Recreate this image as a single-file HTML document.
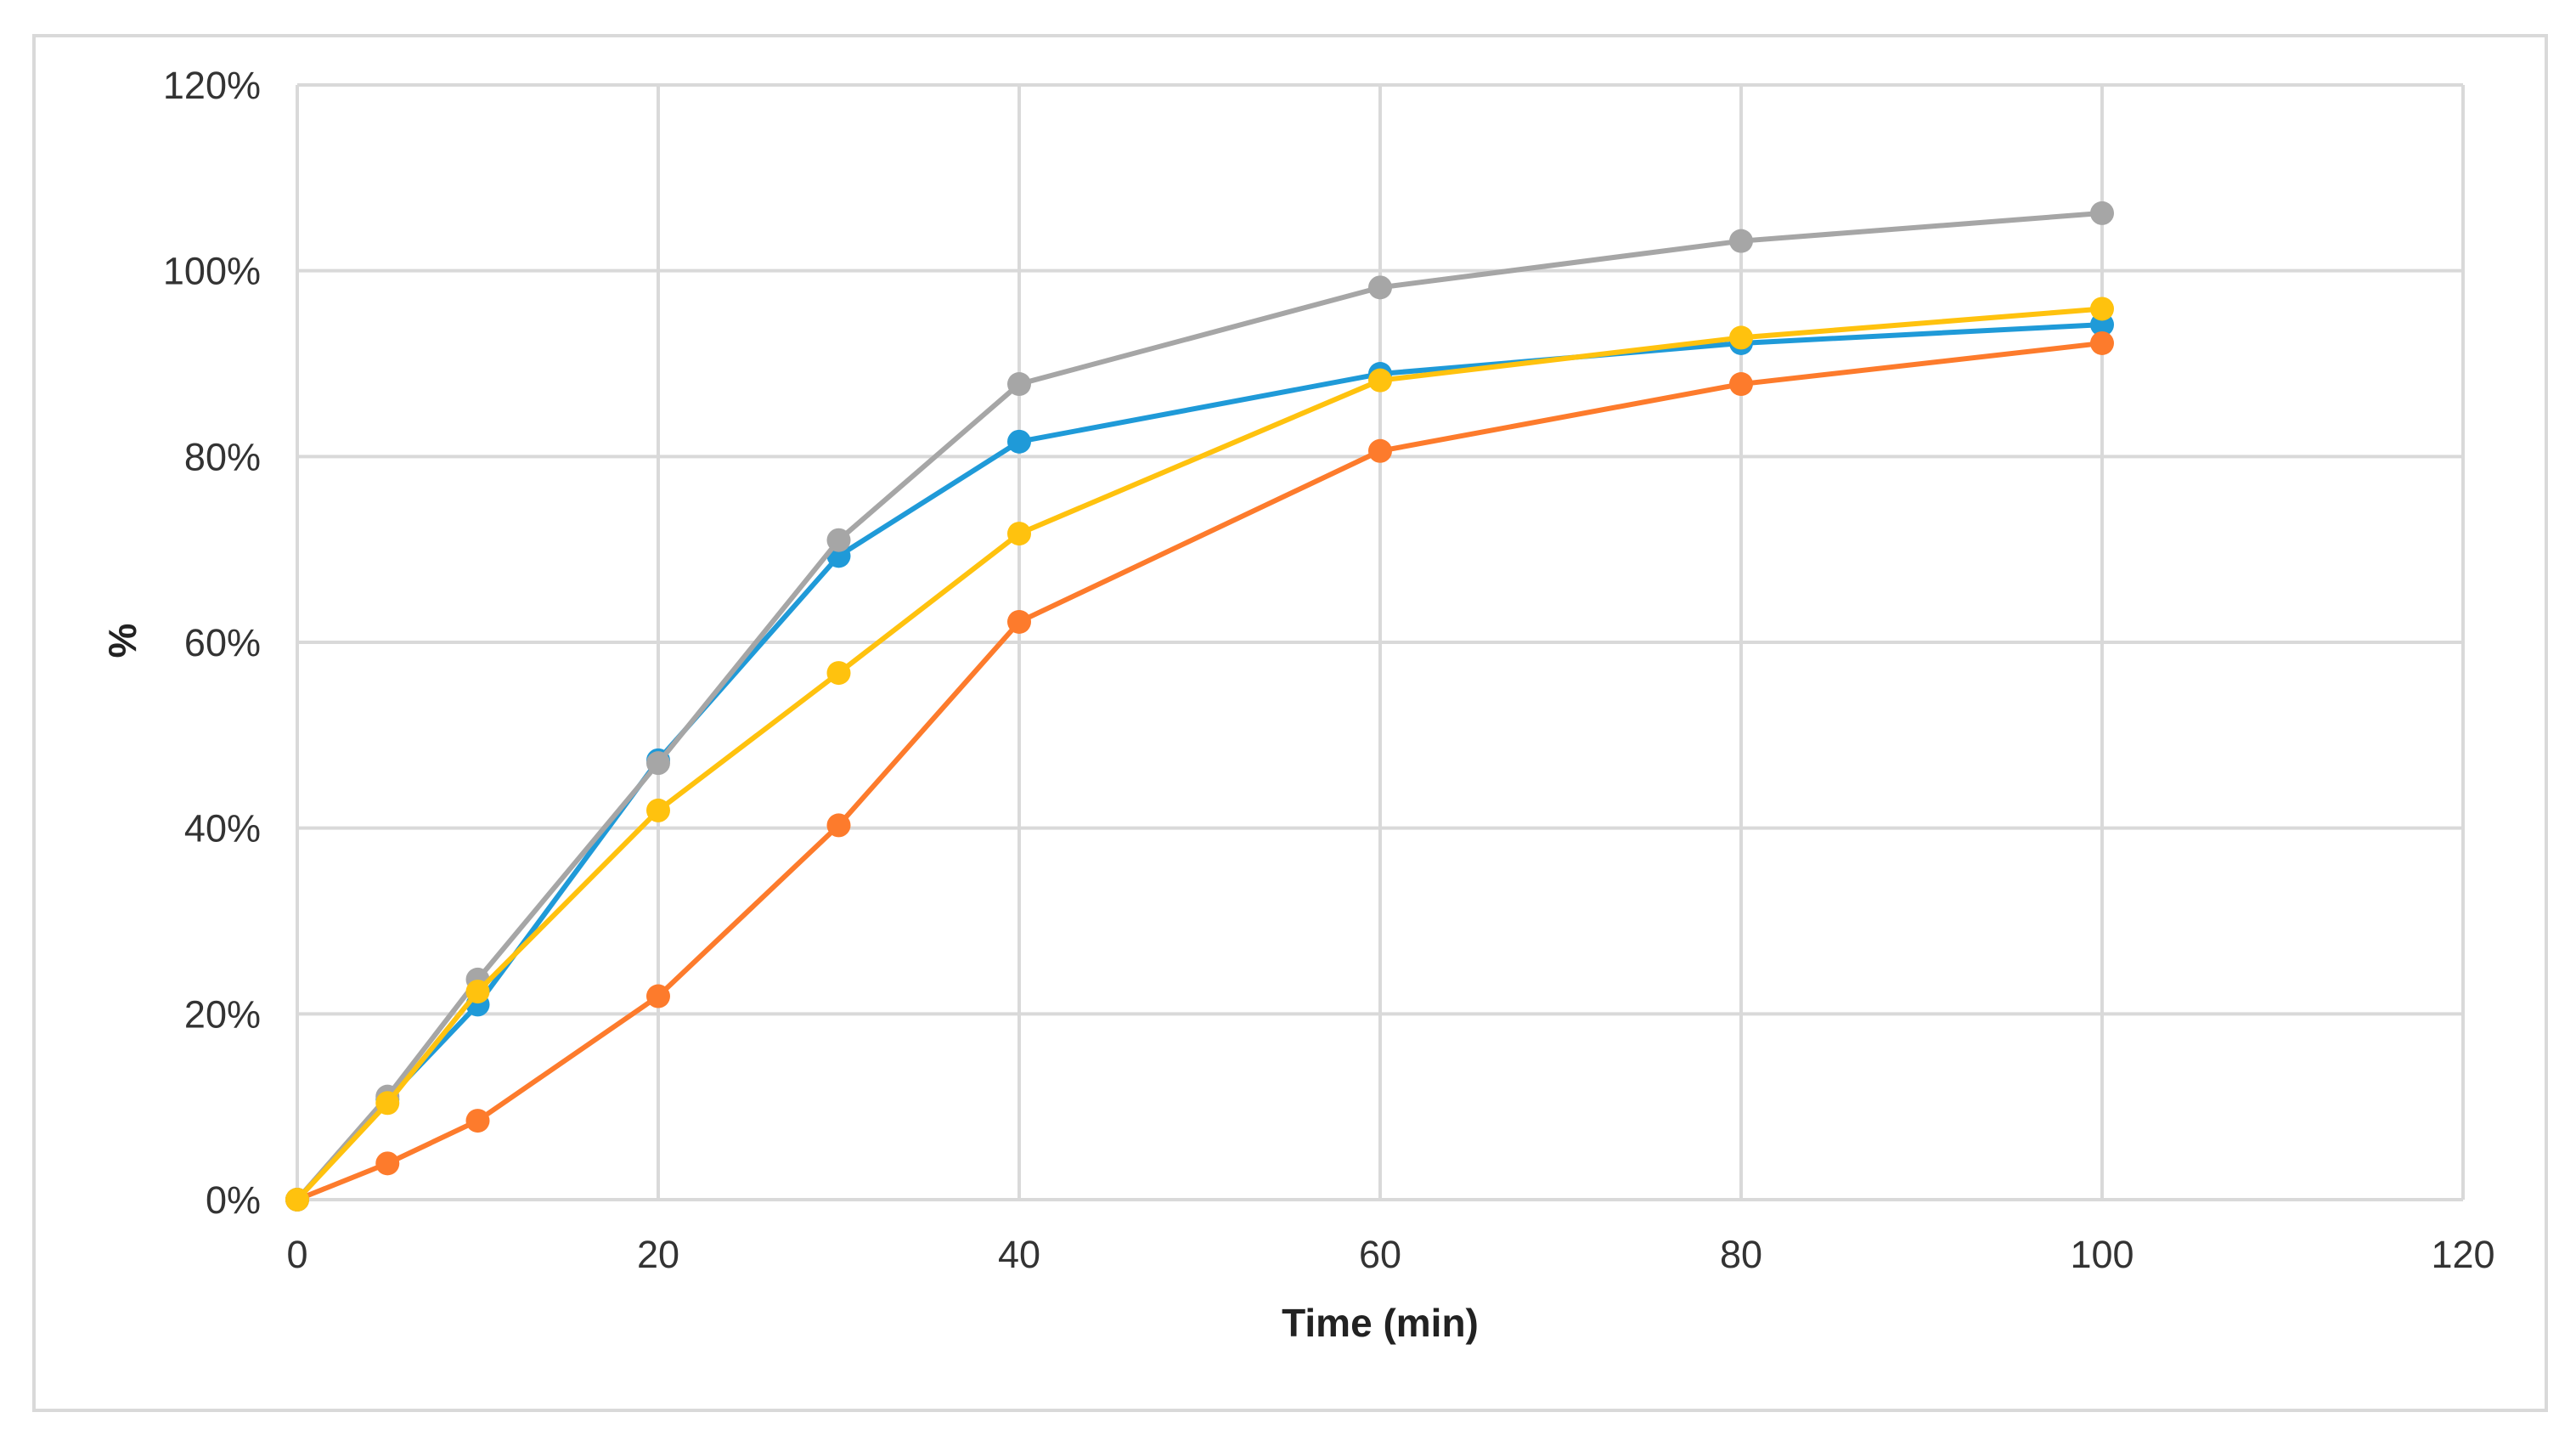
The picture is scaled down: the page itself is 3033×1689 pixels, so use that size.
<!DOCTYPE html>
<html><head><meta charset="utf-8"><style>
html,body{margin:0;padding:0;background:#fff;}
svg{display:block;font-family:"Liberation Sans",sans-serif;}
</style></head><body>
<svg id="chart" width="3033" height="1689">
<rect x="40" y="42" width="2958" height="1618" fill="#fff" stroke="#d9d9d9" stroke-width="4"/>
<g id="grid"></g><g id="axes"></g><g id="series"></g>
<text x="1625" y="1573" font-size="46" font-weight="bold" text-anchor="middle" fill="#222">Time (min)</text>
<text x="0" y="0" font-size="46" font-weight="bold" text-anchor="middle" fill="#222" transform="translate(160,754) rotate(-90)">%</text>
</svg>
<script>
const xTicks=[0,20,40,60,80,100,120];
const yTicks=[0,0.2,0.4,0.6,0.8,1.0,1.2];
const times=[0,5,10,20,30,40,60,80,100];
const blueVals=[0,0.108,0.21,0.473,0.693,0.816,0.889,0.922,0.942];
const orangeVals=[0,0.039,0.085,0.219,0.403,0.622,0.806,0.878,0.922];
const grayVals=[0,0.111,0.237,0.47,0.71,0.878,0.982,1.032,1.062];
const yellowVals=[0,0.104,0.224,0.419,0.567,0.717,0.882,0.928,0.959];
const L=350,R=2900,T=100,B=1412;
const xs=v=>L+(v-0)/(120-0)*(R-L);
const ys=v=>B-(v/1.2)*(B-T);
const NS="http://www.w3.org/2000/svg";
function mk(tag,attrs,parent){const e=document.createElementNS(NS,tag);for(const k in attrs)e.setAttribute(k,attrs[k]);parent.appendChild(e);return e;}
const grid=document.getElementById('grid'),axes=document.getElementById('axes'),ser=document.getElementById('series');
yTicks.forEach(t=>{
 const l=mk('line',{x1:L,x2:R,y1:ys(t),y2:ys(t),stroke:'#d9d9d9','stroke-width':4},grid);
 
 
 const tx=mk('text',{x:307,y:ys(t)+16,'font-size':45,'text-anchor':'end',fill:'#333'},axes);
 tx.textContent=Math.round(t*100)+'%';
 
 
});
xTicks.forEach(t=>{
 const l=mk('line',{x1:xs(t),x2:xs(t),y1:T,y2:B,stroke:'#d9d9d9','stroke-width':4},grid);
 
 
 const tx=mk('text',{x:xs(t),y:1492,'font-size':45,'text-anchor':'middle',fill:'#333'},axes);
 tx.textContent=t;
 
 
});
const all=[['blue',blueVals,'#1f9ad8'],['orange',orangeVals,'#fd7b2c'],['gray',grayVals,'#a6a6a6'],['yellow',yellowVals,'#ffc20e']];
all.forEach(([n,vals,c])=>{
 const g=mk('g',{},ser);
 
 
 const p=mk('polyline',{points:times.map((t,i)=>xs(t)+','+ys(vals[i])).join(' '),fill:'none',stroke:c,'stroke-width':6,'stroke-linejoin':'round'},g);
 
 
 times.forEach((t,i)=>{
  const m=mk('circle',{cx:xs(t),cy:ys(vals[i]),r:14,fill:c},g);
  
  
 });
});
</script>
</body></html>
